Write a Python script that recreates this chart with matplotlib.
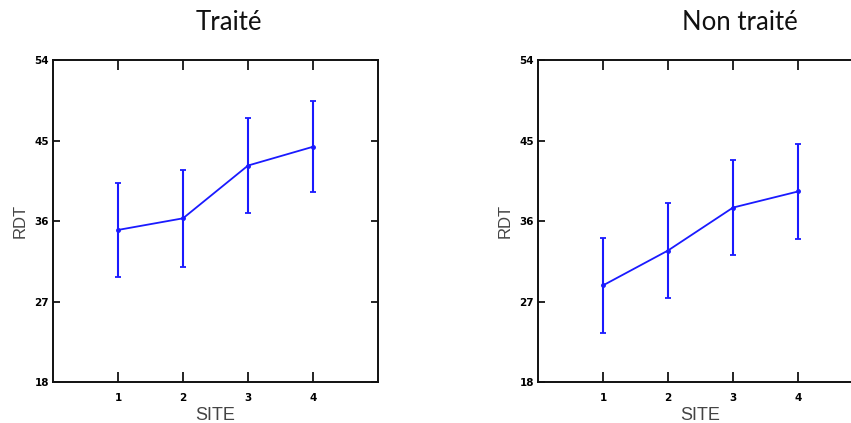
import matplotlib
matplotlib.use("Agg")
import matplotlib.pyplot as plt
import numpy as np

sites = [1, 2, 3, 4]
treated_mean = [35.0, 36.3, 42.2, 44.3]
treated_err = [5.3, 5.4, 5.3, 5.1]
untreated_mean = [28.8, 32.7, 37.5, 39.3]
untreated_err = [5.3, 5.3, 5.3, 5.3]
titles = ["Traité", "Non traité"]
yticks = [18, 27, 36, 45, 54]
xticks = [1, 2, 3, 4]

W, H = 851, 423
fig = plt.figure(figsize=(W / 100, H / 100), dpi=100)

def px_axes(x0, x1, y0, y1):
    return fig.add_axes([x0 / W, 1 - y1 / H, (x1 - x0) / W, (y1 - y0) / H])

axes = [px_axes(53, 378, 60, 382), px_axes(538, 863, 60, 382)]
data = [(treated_mean, treated_err), (untreated_mean, untreated_err)]
title_x = [229, 740]

for ax, (m, e), t, tx in zip(axes, data, titles, title_x):
    ax.errorbar(sites, m, yerr=e, color="#1a1aff", lw=1.3, elinewidth=1.5,
                capsize=2.5, capthick=1.3, marker="o", markersize=2.5)
    ax.set_xlim(0, 5)
    ax.set_ylim(18, 54)
    ax.set_xticks(xticks)
    ax.set_yticks(yticks)
    ax.set_xticklabels([str(v) for v in xticks], fontsize=7.5, fontweight="bold")
    ax.set_yticklabels([str(v) for v in yticks], fontsize=7.5, fontweight="bold")
    ax.tick_params(axis="x", direction="in", length=7, width=1.2, top=True, pad=8)
    ax.tick_params(axis="y", direction="in", length=5, width=1.2, right=True, pad=3)
    for s in ax.spines.values():
        s.set_linewidth(1.4)
        s.set_color("#111111")
    ax.set_xlabel("SITE", fontsize=13, family="Liberation Sans", color="#444444", labelpad=3)
    ax.set_ylabel("RDT", fontsize=12, family="Liberation Sans", color="#444444", labelpad=5)
    fig.text(tx / W, 1 - 30 / H, t, ha="center", va="baseline", fontsize=18.5,
             family="Lato", color="#111111")

fig.savefig("out.png", dpi=100)
